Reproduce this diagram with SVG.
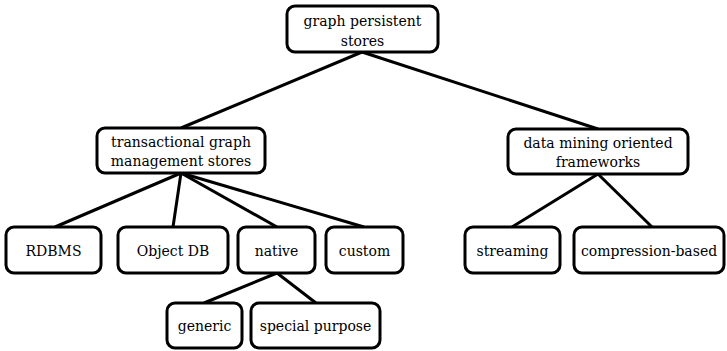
<svg xmlns="http://www.w3.org/2000/svg" width="727" height="351" viewBox="0 0 727 351">
<style>
.n rect{fill:#fff;stroke:#000;stroke-width:3;}
.n text{font-family:'DejaVu Serif','Liberation Serif',serif;font-size:14px;fill:#000;text-anchor:middle;}
#edges line{stroke:#000;stroke-width:3;}
</style>
<rect width="727" height="351" fill="#fff"/>
<g id="edges">
<line x1="362" y1="52" x2="181" y2="128"/>
<line x1="362" y1="52" x2="598" y2="129"/>
<line x1="181" y1="173" x2="55" y2="227"/>
<line x1="181" y1="173" x2="173" y2="227"/>
<line x1="181" y1="173" x2="277" y2="227"/>
<line x1="181" y1="173" x2="364" y2="227"/>
<line x1="598" y1="174" x2="512" y2="227"/>
<line x1="598" y1="174" x2="652" y2="227"/>
<line x1="277" y1="273" x2="204" y2="303"/>
<line x1="277" y1="273" x2="316" y2="303"/>
</g>
<g id="root" class="n"><rect x="287" y="6" width="151" height="46" rx="8"/><text x="362.5" y="26">graph persistent</text><text x="362.5" y="46">stores</text></g>
<g id="transactional" class="n"><rect x="97" y="128" width="168" height="45" rx="8"/><text x="181" y="147">transactional graph</text><text x="181" y="166">management stores</text></g>
<g id="datamining" class="n"><rect x="508" y="129" width="180" height="45" rx="8"/><text x="598" y="148">data mining oriented</text><text x="598" y="167">frameworks</text></g>
<g id="rdbms" class="n"><rect x="6" y="227" width="95" height="46" rx="8"/><text x="53.5" y="256">RDBMS</text></g>
<g id="objectdb" class="n"><rect x="118" y="227" width="110" height="46" rx="8"/><text x="173" y="256">Object DB</text></g>
<g id="native" class="n"><rect x="238" y="227" width="77" height="46" rx="8"/><text x="276.5" y="256">native</text></g>
<g id="custom" class="n"><rect x="326" y="227" width="77" height="46" rx="8"/><text x="364.5" y="256">custom</text></g>
<g id="streaming" class="n"><rect x="465" y="227" width="95" height="46" rx="8"/><text x="512.5" y="256">streaming</text></g>
<g id="compression" class="n"><rect x="574" y="227" width="150" height="46" rx="8"/><text x="649" y="256">compression-based</text></g>
<g id="generic" class="n"><rect x="167" y="303" width="75" height="45" rx="8"/><text x="204.5" y="331">generic</text></g>
<g id="special" class="n"><rect x="251" y="303" width="129" height="45" rx="8"/><text x="315.5" y="331">special purpose</text></g>
</svg>
